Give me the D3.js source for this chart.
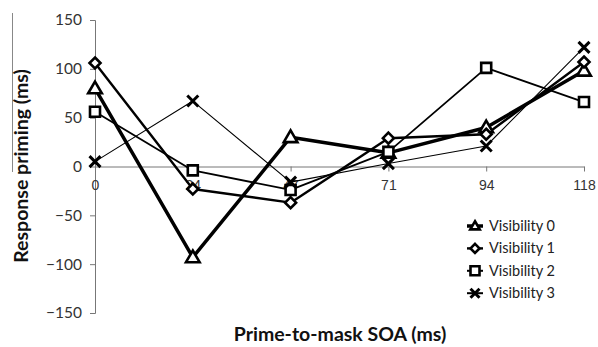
<!DOCTYPE html>
<html>
<head>
<meta charset="utf-8">
<script src="https://cdn.jsdelivr.net/npm/d3@7"></script>
<style>
  body { margin: 0; background: #fff; }
  svg { display: block; }
</style>
</head>
<body>
<div id="chart"></div>
<script>
// x categories (SOA in ms) and y ticks
const soaLabels = ["0", "24", "47", "71", "94", "118"];
const yTicks = [-150, -100, -50, 0, 50, 100, 150];

// response priming values per visibility level
const seriesNames = ["Visibility 0", "Visibility 1", "Visibility 2", "Visibility 3"];
const visibility0 = [80, -93, 30, 14, 40, 98];
const visibility1 = [106, -23, -37, 29, 33, 107];
const visibility2 = [56, -4, -24, 15, 101, 66];
const visibility3 = [5, 67, -16, 3, 21, 122];
const allSeries = [visibility0, visibility1, visibility2, visibility3];

const width = 598, height = 347;

const svg = d3.select("#chart").append("svg")
    .attr("width", width)
    .attr("height", height);

const x = d3.scalePoint().domain(soaLabels).range([95, 584]);
const y = d3.scaleLinear().domain([-150, 150]).range([313, 20]);

// marker shapes, one per series
function markerPath(kind, s) {
    const h = s / 2;
    if (kind === "triangle") {
        return `M0,${-h * 1.05}L${h * 1.05},${h * 0.75}L${-h * 1.05},${h * 0.75}Z`;
    }
    if (kind === "diamond") {
        return `M0,${-h}L${h},0L0,${h}L${-h},0Z`;
    }
    if (kind === "square") {
        return `M${-h},${-h}H${h}V${h}H${-h}Z`;
    }
    return `M${-h},${-h}L${h},${h}M${h},${-h}L${-h},${h}`;
}
const markers = ["triangle", "diamond", "square", "x"];
const lineWidths = [3.5, 2.4, 1.8, 1.1];
const markerSizes = [13, 11, 10, 11];

// scan artefact line left of the y title
svg.append("line")
    .attr("x1", 12.5).attr("x2", 12.5)
    .attr("y1", 13).attr("y2", 172)
    .attr("stroke", "#888").attr("stroke-width", 1);

// y axis
const yAxis = d3.axisLeft(y).tickValues(yTicks).tickSize(5).tickPadding(8);
const gy = svg.append("g").attr("transform", "translate(95,0)").call(yAxis);
gy.select(".domain").attr("stroke", "#777");
gy.selectAll(".tick line").attr("stroke", "#777");
gy.selectAll(".tick text")
    .attr("font-family", "Lato, 'Open Sans', sans-serif")
    .attr("font-size", 15.5)
    .attr("fill", "#333");

// x axis sitting on zero
const xAxis = d3.axisBottom(x).tickSize(5).tickPadding(9).tickSizeOuter(0);
const gx = svg.append("g").attr("transform", `translate(0,${y(0)})`).call(xAxis);
gx.select(".domain").attr("stroke", "#777");
gx.selectAll(".tick line").attr("stroke", "#777");
gx.selectAll(".tick text")
    .attr("font-family", "'Liberation Sans', Arial, sans-serif")
    .attr("font-size", 14)
    .attr("fill", "#333");

// series lines and markers
const line = d3.line()
    .x((d, i) => x(soaLabels[i]))
    .y(d => y(d));

allSeries.forEach((vals, k) => {
    svg.append("path")
        .datum(vals)
        .attr("d", line)
        .attr("fill", "none")
        .attr("stroke", "#000")
        .attr("stroke-width", lineWidths[k])
        .attr("stroke-linejoin", "round");
});

allSeries.forEach((vals, k) => {
    svg.append("g").selectAll("path")
        .data(vals)
        .join("path")
        .attr("transform", (d, i) => `translate(${x(soaLabels[i])},${y(d)})`)
        .attr("d", markerPath(markers[k], markerSizes[k]))
        .attr("fill", markers[k] === "x" ? "none" : "#fff")
        .attr("stroke", "#000")
        .attr("stroke-width", markers[k] === "x" ? 3 : 2.6);
});

// legend
const legend = svg.append("g").attr("transform", "translate(475,226)");
seriesNames.forEach((name, k) => {
    const row = legend.append("g").attr("transform", `translate(0,${k * 22.4})`);
    row.append("line")
        .attr("x1", -8).attr("x2", 8)
        .attr("stroke", "#000")
        .attr("stroke-width", Math.max(lineWidths[k], 2));
    row.append("path")
        .attr("d", markerPath(markers[k], 9))
        .attr("fill", markers[k] === "x" ? "none" : "#fff")
        .attr("stroke", "#000")
        .attr("stroke-width", markers[k] === "x" ? 3 : 2.6);
    row.append("text")
        .attr("x", 14)
        .attr("y", 5)
        .attr("font-family", "Lato, 'Open Sans', sans-serif")
        .attr("font-size", 14.5)
        .attr("fill", "#222")
        .text(name);
});

// axis titles
svg.append("text")
    .attr("transform", "translate(28,166) rotate(-90)")
    .attr("text-anchor", "middle")
    .attr("font-family", "Lato, 'Open Sans', sans-serif")
    .attr("font-weight", "bold")
    .attr("font-size", 19.5)
    .attr("fill", "#111")
    .text("Response priming (ms)");

svg.append("text")
    .attr("x", 340)
    .attr("y", 341)
    .attr("text-anchor", "middle")
    .attr("font-family", "Lato, 'Open Sans', sans-serif")
    .attr("font-weight", "bold")
    .attr("font-size", 19.5)
    .attr("fill", "#111")
    .text("Prime-to-mask SOA (ms)");
</script>
</body>
</html>
